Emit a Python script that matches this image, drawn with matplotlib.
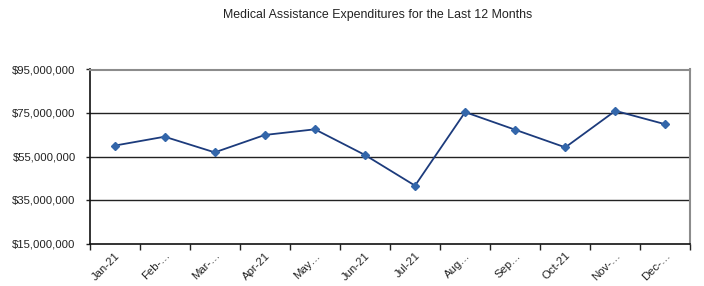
import matplotlib.pyplot as plt
from matplotlib.ticker import FuncFormatter

plt.rcParams['font.family'] = ['Liberation Sans', 'DejaVu Sans']

months = ['Jan-21', 'Feb-\u2026', 'Mar-\u2026', 'Apr-21', 'May\u2026', 'Jun-21',
          'Jul-21', 'Aug\u2026', 'Sep\u2026', 'Oct-21', 'Nov-\u2026', 'Dec-\u2026']
spending = [60.0, 64.1, 56.9, 64.9, 67.5, 55.7, 41.6, 75.4, 67.3, 59.2, 76.0, 69.8]  # millions $
yticks = [15, 35, 55, 75, 95]

fig = plt.figure(figsize=(7.04, 2.86), dpi=100)
ax = fig.add_axes([89.5/704, 1 - 243.5/286, 601/704, 174/286])

x = range(len(months))
ax.plot(x, spending, color='#1c3b7c', lw=1.3, marker='D', ms=4.5,
        mfc='#3366aa', mec='#3366aa', zorder=3)

ax.set_xlim(-0.5, len(months) - 0.5)
ax.set_ylim(15, 95)
ax.set_yticks(yticks)
ax.yaxis.set_major_formatter(FuncFormatter(lambda v, p: '${:,.0f}'.format(v * 1e6)))
for v in yticks[1:-1]:
    ax.axhline(v, color='#222222', lw=1.0, zorder=1)

ax.set_xticks([i + 0.5 for i in range(-1, len(months))], minor=False)
ax.set_xticklabels([''] * (len(months) + 1))
ax.set_xticks(list(x), minor=True)
ax.set_xticklabels(months, minor=True, rotation=45, ha='right', va='top',
                   rotation_mode='anchor', fontsize=8.2, color='#222222')
ax.tick_params(axis='x', which='minor', length=0, pad=5)
ax.tick_params(axis='x', which='major', length=4, width=1, color='#222222')
ax.tick_params(axis='y', length=3, width=1, color='#222222', labelsize=8.2,
               labelcolor='#222222', pad=7)

for s in ['top', 'right']:
    ax.spines[s].set_color('#8c8c8c')
    ax.spines[s].set_linewidth(1.5)
for s in ['left', 'bottom']:
    ax.spines[s].set_color('#111111')
    ax.spines[s].set_linewidth(1.2)

fig.text(378/704, 1 - 15/286, 'Medical Assistance Expenditures for the Last 12 Months',
         ha='center', va='center', fontsize=8.9, color='#222222')

fig.savefig('out.png', dpi=100)
